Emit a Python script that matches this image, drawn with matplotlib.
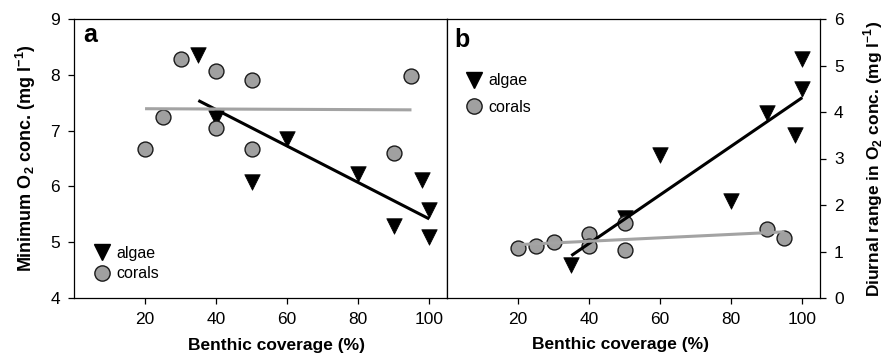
import numpy as np
import matplotlib
matplotlib.use("Agg")
import matplotlib.pyplot as plt
from matplotlib.lines import Line2D

plt.rcParams['font.family'] = ['Liberation Sans', 'DejaVu Sans']
plt.rcParams['mathtext.fontset'] = 'custom'
plt.rcParams['mathtext.rm'] = 'Liberation Sans'
plt.rcParams['mathtext.bf'] = 'Liberation Sans:bold'

# Panel a: minimum O2 concentration
a_algae_x = [35, 40, 50, 60, 80, 90, 98, 100, 100]
a_algae_y = [8.36, 7.22, 6.07, 6.85, 6.23, 5.29, 6.12, 5.58, 5.10]
a_coral_x = [20, 25, 30, 40, 40, 50, 50, 90, 95]
a_coral_y = [6.67, 7.25, 8.28, 8.07, 7.04, 7.91, 6.67, 6.60, 7.97]

# Panel b: diurnal range of O2 concentration
b_algae_x = [35, 50, 60, 80, 90, 98, 100, 100]
b_algae_y = [0.72, 1.72, 3.08, 2.08, 3.97, 3.51, 5.13, 4.49]
b_coral_x = [20, 25, 30, 40, 40, 50, 50, 90, 95]
b_coral_y = [1.07, 1.11, 1.20, 1.37, 1.11, 1.61, 1.04, 1.48, 1.29]

x_ticks = [20, 40, 60, 80, 100]
a_yticks = [4, 5, 6, 7, 8, 9]
b_yticks = [0, 1, 2, 3, 4, 5, 6]

GRAY = '#a0a0a0'
LINEGRAY = '#a3a3a3'

fig = plt.figure(figsize=(8.85, 3.53), dpi=100)
W, H = 885, 353
def rect(l, r, t, b):
    return [l / W, 1 - b / H, (r - l) / W, (b - t) / H]

axa = fig.add_axes(rect(74, 447, 19, 298))
axb = fig.add_axes(rect(447, 820, 19, 298))


def fit_line(ax, x, y, color):
    x = np.asarray(x, float); y = np.asarray(y, float)
    k, c = np.polyfit(x, y, 1)
    xs = np.array([x.min(), x.max()])
    ax.plot(xs, k * xs + c, color=color, lw=2.2, zorder=4, solid_capstyle='butt')


def draw(ax, ax_x, ax_y, co_x, co_y):
    ax.scatter(ax_x, ax_y, marker='v', s=125, color='black', edgecolors='black',
               linewidths=0.5, zorder=2)
    ax.scatter(co_x, co_y, marker='o', s=115, facecolor=GRAY, edgecolors='#1a1a1a',
               linewidths=1.0, zorder=3)
    fit_line(ax, ax_x, ax_y, 'black')
    fit_line(ax, co_x, co_y, LINEGRAY)
    ax.set_xlim(0, 105)
    ax.set_xticks(x_ticks)
    for s in ax.spines.values():
        s.set_linewidth(0.9)
    ax.tick_params(direction='out', length=4, width=0.9, labelsize=12.5, pad=6)


draw(axa, a_algae_x, a_algae_y, a_coral_x, a_coral_y)
draw(axb, b_algae_x, b_algae_y, b_coral_x, b_coral_y)

axa.set_ylim(4, 9)
axa.set_yticks(a_yticks)
axb.set_ylim(0, 6)
axb.set_yticks(b_yticks)
axb.yaxis.tick_right()
axb.yaxis.set_label_position('right')

axa.set_ylabel(r'Minimum O$_\mathbf{2}$ conc. (mg l$^\mathbf{-1}$)',
               fontsize=13, fontweight='bold')
axa.yaxis.set_label_coords(-0.097, 0.5)
axb.set_ylabel(r'Diurnal range in O$_\mathbf{2}$ conc. (mg l$^\mathbf{-1}$)',
               fontsize=12.5, fontweight='bold')
axb.yaxis.set_label_coords(1.112, 0.5)

axa.set_xlabel('Benthic coverage (%)', fontsize=12.5, fontweight='bold')
axa.xaxis.set_label_coords(0.544, -0.145)
axb.set_xlabel('Benthic coverage (%)', fontsize=12.5, fontweight='bold')
axb.xaxis.set_label_coords(0.464, -0.138)

axa.text(0.024, 0.918, 'a', transform=axa.transAxes, fontsize=18,
         fontweight='bold', va='baseline', ha='left')
axb.text(0.021, 0.90, 'b', transform=axb.transAxes, fontsize=18,
         fontweight='bold', va='baseline', ha='left')

handles = [
    Line2D([], [], marker='v', ls='none', color='black', markersize=11),
    Line2D([], [], marker='o', ls='none', markerfacecolor=GRAY,
           markeredgecolor='#1a1a1a', markersize=11),
]
labels = ['algae', 'corals']
for ax, loc, anchor, spacing in [(axa, 'lower left', (0.025, 0.02), 0.35),
                                 (axb, 'upper left', (0.022, 0.845), 0.7)]:
    ax.legend(handles, labels, loc=loc, bbox_to_anchor=anchor, frameon=False,
              fontsize=11.5, handlelength=1.0, handletextpad=0.4,
              labelspacing=spacing, borderaxespad=0.3)

fig.savefig('out.png', dpi=100)
